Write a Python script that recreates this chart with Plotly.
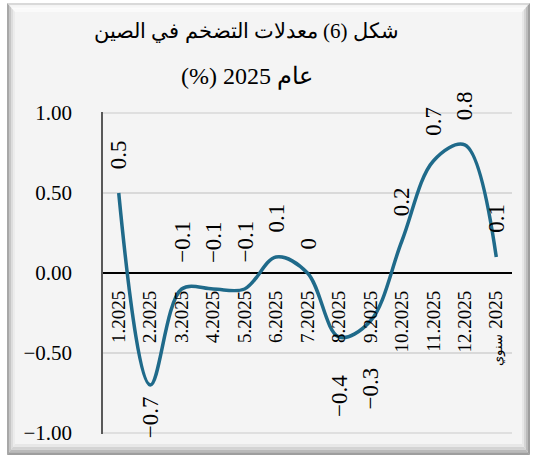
import plotly.graph_objects as go

categories = ["1.2025", "2.2025", "3.2025", "4.2025", "5.2025", "6.2025", "7.2025",
              "8.2025", "9.2025", "10.2025", "11.2025", "12.2025", "2025 سنوي"]
tick_labels = ["1.2025", "2.2025", "3.2025", "4.2025", "5.2025", "6.2025", "7.2025",
               "8.2025", "9.2025", "10.2025", "11.2025", "12.2025",
               "<span style='font-size:13px'>سنوي</span>\u200e 2025"]
inflation = [0.5, -0.7, -0.1, -0.1, -0.1, 0.1, 0.0, -0.4, -0.3, 0.2, 0.7, 0.8, 0.1]
y_ticks = [-1.0, -0.5, 0.0, 0.5, 1.0]

# label placement (style): pixel gap from point, positive above / negative below
label_gap = [22, -9, 24, 24, 24, 22, 21, -36, -44, 23, 23, 23, 22]

W, H = 535, 459
ML, MR, MT, MB = 103, 23, 112, 25
PW, PH = W - ML - MR, H - MT - MB


def px(x):
    return (x - ML) / PW


def py(y):
    return (H - MB - y) / PH


SERIF = "Liberation Serif, Times New Roman, DejaVu Serif, serif"
LINE_COLOR = "#1f6a8a"
GRID = "#d9d9d9"

fig = go.Figure()
fig.add_trace(go.Scatter(
    x=categories, y=inflation, mode="lines",
    line=dict(color=LINE_COLOR, width=3.5, shape="spline", smoothing=1.0),
    hoverinfo="skip", showlegend=False,
))

# frame (bevelled border)
x0, x1, y0, y1 = 7, 530, 3, 455
wl, wt, wr, wb = 8, 9, 8, 11
shapes = [dict(type="rect", xref="paper", yref="paper", layer="below",
               x0=px(x0), x1=px(x1), y0=py(y1), y1=py(y0),
               fillcolor="#f4f4f4", line=dict(width=0))]
n = 4
side_cols = {
    "left": ["#a8a8a8", "#c6c6c6", "#dddddd", "#ececec"],
    "top": ["#d9d9d9", "#f6f6f6", "#fcfcfc", "#fafafa"],
    "right": ["#9e9e9e", "#bcbcbc", "#d5d5d5", "#e8e8e8"],
    "bottom": ["#9e9e9e", "#bababa", "#d3d3d3", "#e7e7e7"],
}
for i in range(n):
    a, b = i / n, (i + 1) / n
    Lo, To, Ro, Bo = x0 + wl * a, y0 + wt * a, x1 - wr * a, y1 - wb * a
    Li, Ti, Ri, Bi = x0 + wl * b, y0 + wt * b, x1 - wr * b, y1 - wb * b
    polys = {
        "top": [(Lo, To), (Ro, To), (Ri, Ti), (Li, Ti)],
        "left": [(Lo, To), (Li, Ti), (Li, Bi), (Lo, Bo)],
        "right": [(Ro, To), (Ro, Bo), (Ri, Bi), (Ri, Ti)],
        "bottom": [(Lo, Bo), (Li, Bi), (Ri, Bi), (Ro, Bo)],
    }
    for side, pts in polys.items():
        path = "M " + " L ".join(f"{px(X):.5f},{py(Y):.5f}" for X, Y in pts) + " Z"
        shapes.append(dict(type="path", xref="paper", yref="paper", layer="below",
                           path=path, fillcolor=side_cols[side][i], line=dict(width=0)))

# edge gridlines (top/bottom ticks)
for t in (y_ticks[0], y_ticks[-1]):
    shapes.append(dict(type="line", xref="paper", yref="y", layer="above",
                       x0=0, x1=1, y0=t, y1=t, line=dict(color=GRID, width=1.5)))

annotations = []
for idx, (v, g) in enumerate(zip(inflation, label_gap)):
    txt = f"{v:g}".replace("-", "\u2212")
    annotations.append(dict(
        x=idx, y=v, xref="x", yref="y", text=txt, showarrow=False, textangle=-90,
        font=dict(family=SERIF, size=23, color="black"),
        yanchor="bottom" if g > 0 else "top", yshift=g, xanchor="center",
    ))

annotations.append(dict(
    x=px(246), y=py(32), xref="paper", yref="paper", showarrow=False,
    text="شكل (6) معدلات التضخم في الصين",
    font=dict(family=SERIF, size=21, color="black"), xanchor="center", yanchor="middle"))
annotations.append(dict(
    x=px(247), y=py(76), xref="paper", yref="paper", showarrow=False,
    text="\u200fعام 2025 (%)\u200f",
    font=dict(family=SERIF, size=24, color="black"), xanchor="center", yanchor="middle"))

fig.update_layout(
    width=W, height=H,
    margin=dict(l=ML, r=MR, t=MT, b=MB, pad=0),
    paper_bgcolor="white", plot_bgcolor="rgba(0,0,0,0)",
    shapes=shapes, annotations=annotations,
    showlegend=False,
    xaxis=dict(
        type="category", range=[-0.5, len(categories) - 0.5],
        tickmode="array", tickvals=categories, ticktext=tick_labels,
        tickangle=-90, anchor="free", position=0.5,
        showgrid=False, showline=False, zeroline=False, ticks="",
        ticklabelstandoff=13,
        tickfont=dict(family=SERIF, size=19, color="black"),
        automargin=False, fixedrange=True,
    ),
    yaxis=dict(
        range=[-1.006, 1.006], tickmode="array", tickvals=y_ticks,
        tickformat=".2f",
        showgrid=True, gridcolor=GRID, gridwidth=1.5,
        zeroline=True, zerolinecolor="black", zerolinewidth=1.5,
        showline=True, linecolor="#595959", linewidth=1.5,
        ticks="", ticklabelstandoff=25,
        tickfont=dict(family=SERIF, size=21, color="black"),
        automargin=False, fixedrange=True,
    ),
)

fig.write_html("out.html", config={"displayModeBar": False},
               post_script="document.body.style.margin='0';document.body.style.overflow='hidden';")
